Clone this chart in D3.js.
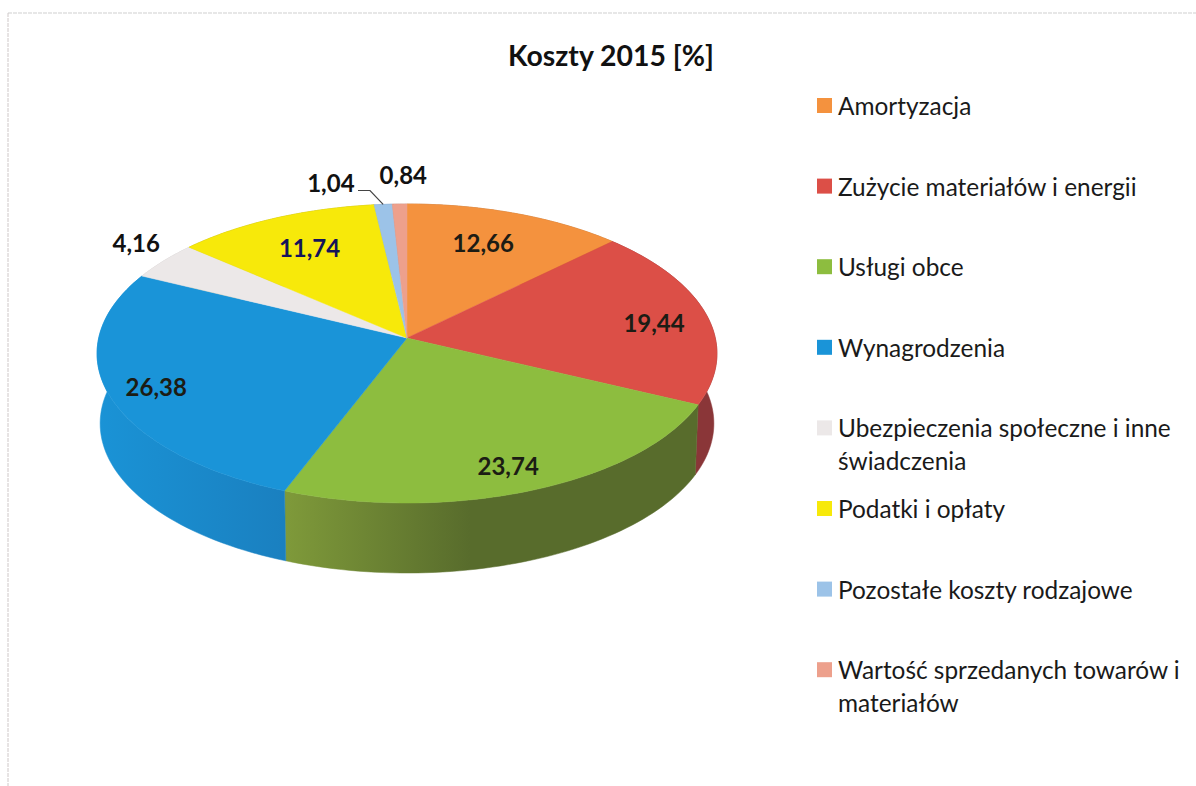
<!DOCTYPE html>
<html>
<head>
<meta charset="utf-8">
<script src="https://cdn.jsdelivr.net/npm/d3@7"></script>
<style>
  html, body { margin: 0; padding: 0; background: #fff; }
  text { font-family: Lato, "Open Sans", sans-serif; }
</style>
</head>
<body>
<div id="chart"></div>
<script>
const categories = ['Amortyzacja', 'Zużycie materiałów i energii', 'Usługi obce', 'Wynagrodzenia',
  'Ubezpieczenia społeczne i inne świadczenia', 'Podatki i opłaty', 'Pozostałe koszty rodzajowe',
  'Wartość sprzedanych towarów i materiałów'];
const values = [12.66, 19.44, 23.74, 26.38, 4.16, 11.74, 1.04, 0.84];
const valueLabels = ['12,66', '19,44', '23,74', '26,38', '4,16', '11,74', '1,04', '0,84'];
const topColors = ['#f4923e', '#dc4f47', '#8dbd3f', '#1a94d8', '#ece8e8', '#f7e90a', '#9cc3e8', '#eda08c'];
const sideColors = ['#b06a30', '#8a3638', '#5a6e2c', '#1a88c8', '#c8c4c4', '#b0a610', '#7090b0', '#b07868'];
const legendLines = [['Amortyzacja'], ['Zużycie materiałów i energii'], ['Usługi obce'], ['Wynagrodzenia'],
  ['Ubezpieczenia społeczne i inne', 'świadczenia'], ['Podatki i opłaty'], ['Pozostałe koszty rodzajowe'],
  ['Wartość sprzedanych towarów i', 'materiałów']];

const width = 1196, height = 786;
const svg = d3.select('#chart').append('svg').attr('width', width).attr('height', height).style('display', 'block');

// side shading: the blue wall fades into the top, the green one darkens to the right
const defs = svg.append('defs');
function sideGradient(id, x1, x2, from, to) {
  const g = defs.append('linearGradient').attr('id', id).attr('gradientUnits', 'userSpaceOnUse')
    .attr('x1', x1).attr('x2', x2).attr('y1', 0).attr('y2', 0);
  g.append('stop').attr('offset', 0).attr('stop-color', from);
  g.append('stop').attr('offset', 1).attr('stop-color', to);
}
sideGradient('side2', 284, 470, '#7f9a3a', '#586c2c');
sideGradient('side3', 97, 284, '#1a93d6', '#1a80c0');

// faint scan edge of the chart frame
svg.append('line').attr('x1', 8).attr('y1', 13).attr('x2', width).attr('y2', 13)
  .attr('stroke', '#cfcfcf').attr('stroke-dasharray', '4 1');
svg.append('line').attr('x1', 8).attr('y1', 13).attr('x2', 8).attr('y2', height)
  .attr('stroke', '#cfc8c8').attr('stroke-dasharray', '4 1');

svg.append('text').attr('x', 611).attr('y', 66).attr('text-anchor', 'middle')
  .attr('font-size', 28.4).attr('font-weight', 700).attr('fill', '#111').text('Koszty 2015 [%]');

// the pie is tilted with perspective, so circle points go through a homography
const cx = 407, cy = 338;
const k = 0.1037, a = 147.9, b = 308.3, depth = 70;
function project(angle, r) {
  const u = r * Math.sin(angle), v = r * Math.cos(angle), w = 1 + k * v;
  return [cx + b * u / w, cy - a * v / w];
}

const pie = d3.pie().sort(null).startAngle(0).endAngle(2 * Math.PI);
const arcs = pie(values);

function rim(start, end) {
  return d3.range(0, 61).map(i => project(start + (end - start) * i / 60, 1));
}
const line = d3.line();

// sides first, the top face covers whatever is behind it
const sides = svg.append('g');
arcs.forEach((d, i) => {
  const upper = rim(d.startAngle, d.endAngle);
  const lower = upper.map(p => [cx + (p[0] - cx) * 0.99, p[1] + depth]).reverse();
  const fill = (i == 2 || i == 3) ? 'url(#side' + i + ')' : sideColors[i];
  sides.append('path').attr('d', line(upper.concat(lower)) + 'Z')
    .attr('fill', fill).attr('stroke', fill).attr('stroke-width', 0.5);
});

const tops = svg.append('g');
arcs.forEach((d, i) => {
  const pts = [[cx, cy]].concat(rim(d.startAngle, d.endAngle));
  tops.append('path').attr('d', line(pts) + 'Z')
    .attr('fill', topColors[i]).attr('stroke', topColors[i]).attr('stroke-width', 0.5);
});

// labels sit at a fraction of the radius, outside ones further out
const labelRadius = [0.68, 0.8, 0.75, 0.82, 1.2, 0.72, 1.2, 1.2];
const labelColors = ['#1c1c14', '#1c1c14', '#1c1c14', '#1c1c14', '#111', '#14145a', '#111', '#111'];
const labelNudge = [[0, -7], [7, 5], [9, 18], [-8, 4], [18, -2], [0, -1], [-48, 3], [5, -4]];
arcs.forEach((d, i) => {
  const p = project((d.startAngle + d.endAngle) / 2, labelRadius[i]);
  svg.append('text').attr('x', p[0] + labelNudge[i][0]).attr('y', p[1] + labelNudge[i][1] + 8)
    .attr('text-anchor', 'middle').attr('font-size', 24).attr('font-weight', 700)
    .attr('fill', labelColors[i]).text(valueLabels[i]);
});

// leader line of the 1,04 slice
const leaderEnd = project((arcs[6].startAngle + arcs[6].endAngle) / 2, 1);
svg.append('path').attr('d', line([[358, 190.5], [370, 190.5], [leaderEnd[0], leaderEnd[1]]]))
  .attr('fill', 'none').attr('stroke', '#444').attr('stroke-width', 1.2);

// legend
const legendY = d3.scaleLinear().domain([0, 1]).range([106, 146.3]);
const legendRows = [0, 2, 4, 6, 8, 10, 12, 14];
const legend = svg.append('g');
categories.forEach((c, i) => {
  const y = legendY(legendRows[i]);
  legend.append('rect').attr('x', 817).attr('y', y - 8).attr('width', 15).attr('height', 15).attr('fill', topColors[i]);
  legendLines[i].forEach((t, j) => {
    legend.append('text').attr('x', 838).attr('y', y + 9 + j * 33).attr('font-size', 24.4).attr('fill', '#1a1a1a').text(t);
  });
});
</script>
</body>
</html>
